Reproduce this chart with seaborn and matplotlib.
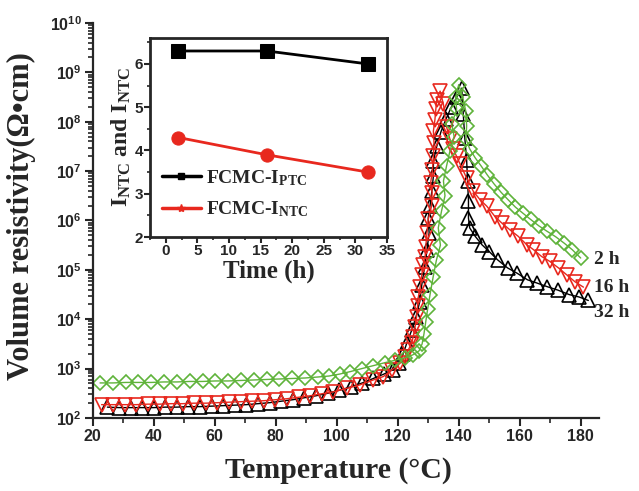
import numpy as np
import matplotlib
matplotlib.use("Agg")
import matplotlib.pyplot as plt
from matplotlib.ticker import MultipleLocator, LogLocator, FuncFormatter, NullFormatter
from matplotlib.lines import Line2D
import seaborn as sns

temp_32h = [24.8, 28.6, 32.4, 36.2, 40.0, 43.8, 47.6, 51.4, 55.2, 59.0, 62.8, 66.6, 70.4, 74.2,
            78.0, 81.8, 85.6, 89.4, 93.2, 97.0, 100.8, 104.6, 108.4, 112.0, 115.5, 118.5, 120.5,
            121.8, 123.0, 124.6, 126.0, 127.2, 127.9, 128.8, 129.6, 130.3, 130.0, 130.6, 131.2,
            131.7, 131.7, 132.8, 134.2, 135.8, 137.6, 139.4, 141.0, 141.5, 142.0, 142.6, 142.9,
            143.2, 143.2, 143.6, 145.4, 147.6, 150.0, 152.8, 156.0, 159.2, 162.5, 165.8, 169.0,
            172.5, 176.2, 179.5, 182.5]
log_rho_32h = [2.22, 2.21, 2.21, 2.21, 2.21, 2.22, 2.22, 2.23, 2.23, 2.24, 2.25, 2.26, 2.27, 2.29,
               2.31, 2.34, 2.37, 2.41, 2.45, 2.50, 2.56, 2.63, 2.71, 2.80, 2.89, 2.98, 3.12,
               3.30, 3.52, 3.78, 4.05, 4.35, 4.70, 5.05, 5.40, 5.75, 6.05, 6.30, 6.60,
               6.90, 7.20, 7.50, 7.80, 8.05, 8.30, 8.50, 8.68, 8.15, 7.67, 7.23, 6.80,
               6.40, 6.05, 5.85, 5.68, 5.51, 5.37, 5.20, 5.04, 4.93, 4.80, 4.73, 4.66,
               4.59, 4.50, 4.45, 4.38]

temp_16h = [22.9, 26.7, 30.5, 34.3, 38.1, 41.9, 45.7, 49.5, 53.3, 57.1, 60.9, 64.7, 68.5, 72.3,
            76.1, 79.9, 83.7, 87.5, 91.3, 95.1, 98.9, 103.3, 107.6, 112.0, 115.3, 118.0, 120.8,
            122.4, 123.5, 124.6, 125.1, 125.7, 126.2, 126.5, 126.8, 127.4, 127.9, 128.4, 129.0,
            129.2, 129.6, 130.0, 131.1, 131.3, 130.8, 131.4, 131.7, 131.9, 131.7, 132.2, 132.5,
            132.8, 133.9, 135.0, 136.0, 137.1, 138.2, 139.3, 140.4, 142.6, 144.8, 147.0, 149.2,
            151.9, 154.1, 156.8, 159.5, 162.3, 164.5, 167.2, 169.9, 172.7, 175.4, 178.1, 180.9]
log_rho_16h = [2.27, 2.27, 2.27, 2.27, 2.28, 2.28, 2.29, 2.29, 2.30, 2.30, 2.31, 2.32, 2.33, 2.34,
               2.35, 2.37, 2.39, 2.42, 2.45, 2.49, 2.53, 2.60, 2.67, 2.77, 2.84, 2.97, 3.11,
               3.24, 3.38, 3.52, 3.65, 3.85, 4.05, 4.26, 4.46, 4.66, 4.90, 5.10, 5.27,
               5.47, 5.75, 6.02, 6.29, 6.56, 6.76, 7.03, 7.30, 7.57, 7.81, 8.04, 8.25,
               8.45, 8.62, 8.35, 7.90, 7.65, 7.45, 7.30, 7.15, 6.86, 6.59, 6.42, 6.29,
               6.08, 5.95, 5.81, 5.68, 5.51, 5.41, 5.27, 5.17, 5.04, 4.90, 4.76, 4.65]

temp_2h = [22.4, 26.6, 30.8, 35.0, 39.2, 43.4, 47.6, 51.8, 56.0, 60.2, 64.4, 68.6, 72.8, 77.0,
           81.2, 85.4, 89.6, 93.8, 97.5, 101.0, 104.5, 108.2, 112.0, 115.8, 119.2, 122.4, 125.0,
           127.0, 128.0, 128.6, 129.2, 129.8, 130.6, 131.6, 132.7, 134.0, 133.3, 134.4, 135.5,
           135.0, 136.0, 137.1, 138.5, 137.7, 139.3, 139.0, 140.0, 141.3, 142.3, 142.6, 142.4,
           143.6, 145.4, 147.4, 149.4, 151.6, 153.9, 156.2, 158.6, 161.0, 163.6, 166.3, 169.0,
           171.8, 174.6, 177.2, 180.0]
log_rho_2h = [2.71, 2.71, 2.72, 2.72, 2.72, 2.73, 2.73, 2.74, 2.74, 2.75, 2.75, 2.76, 2.77, 2.78,
              2.79, 2.80, 2.81, 2.83, 2.85, 2.89, 2.94, 3.00, 3.06, 3.12, 3.17, 3.22, 3.28,
              3.36, 3.50, 3.70, 3.95, 4.20, 4.50, 4.85, 5.20, 5.50, 5.85, 6.20, 6.50,
              6.80, 7.10, 7.40, 7.70, 7.95, 8.25, 8.50, 8.75, 8.50, 8.22, 7.92, 7.65,
              7.45, 7.27, 7.10, 6.92, 6.74, 6.57, 6.42, 6.27, 6.15, 6.02, 5.89, 5.78,
              5.67, 5.54, 5.41, 5.24]

# Inset: intensity ratios vs annealing time
time_h = [2, 16, 32]
i_ptc = [6.3, 6.3, 6.0]
i_ntc = [4.3, 3.9, 3.5]

RED = "#e8281e"
GREEN = "#5fb33a"

sns.set_style("ticks")
plt.rcParams.update({
    "font.family": "Liberation Sans",
    "font.weight": "bold",
    "mathtext.fontset": "custom",
    "mathtext.rm": "Liberation Serif:bold",
    "mathtext.bf": "Liberation Serif:bold",
    "mathtext.it": "Liberation Serif:bold:italic",
    "mathtext.sf": "Liberation Sans:bold",
    "axes.linewidth": 1.6,
})
SERIF = "Liberation Serif"

fig = plt.figure(figsize=(6.39, 4.91), dpi=100)
ax = fig.add_axes([0.1451, 0.1487, 0.7923, 0.8045])

series = [
    (temp_32h, log_rho_32h, "black", "^", 9.5),
    (temp_16h, log_rho_16h, RED, "v", 9.5),
    (temp_2h, log_rho_2h, GREEN, "D", 7.5),
]
for t, lr, c, m, ms in series:
    sns.lineplot(x=t, y=10 ** np.array(lr), ax=ax, sort=False, estimator=None,
                 color=c, linewidth=1.0, marker=m, markersize=ms,
                 markerfacecolor="none", markeredgecolor=c, markeredgewidth=1.2)

ax.set_yscale("log")
ax.set_xlim(20, 186)
ax.set_ylim(1e2, 1e10)
ax.xaxis.set_major_locator(MultipleLocator(20))
ax.xaxis.set_minor_locator(MultipleLocator(10))
ax.yaxis.set_major_locator(LogLocator(base=10, numticks=20))
ax.yaxis.set_minor_locator(LogLocator(base=10, subs=np.arange(2, 10), numticks=20))
ax.yaxis.set_major_formatter(FuncFormatter(lambda v, p: r"$\mathsf{10^{%d}}$" % round(np.log10(v))))
ax.yaxis.set_minor_formatter(NullFormatter())
ax.tick_params(which="major", direction="out", length=6, width=1.5, labelsize=11.5, pad=2)
ax.tick_params(which="minor", direction="out", length=3.5, width=1.2)
sns.despine(ax=ax)

ax.set_xlabel("Temperature (°C)", family=SERIF, fontsize=21.5, fontweight="bold")
ax.set_ylabel("Volume resistivity(Ω•cm)", family=SERIF, fontsize=22, fontweight="bold")
ax.xaxis.set_label_coords(0.485, -0.099)
ax.yaxis.set_label_coords(-0.112, 0.51)

for lbl, y in [("2 h", 1.6e5), ("16 h", 4.4e4), ("32 h", 1.35e4)]:
    ax.text(184.3, y, lbl, family=SERIF, fontsize=14, fontweight="bold", va="center", ha="left")

# inset
axin = fig.add_axes([0.2347, 0.5173, 0.3709, 0.4053])
sns.lineplot(x=time_h, y=i_ptc, ax=axin, color="black", linewidth=2, marker="s",
             markersize=9.5, markeredgecolor="black", estimator=None)
sns.lineplot(x=time_h, y=i_ntc, ax=axin, color=RED, linewidth=2, marker="o",
             markersize=9.5, markeredgecolor=RED, estimator=None)
axin.set_xlim(-2.5, 35)
axin.set_ylim(2, 6.6)
axin.xaxis.set_major_locator(MultipleLocator(5))
axin.xaxis.set_minor_locator(MultipleLocator(2.5))
axin.yaxis.set_major_locator(MultipleLocator(1))
axin.yaxis.set_minor_locator(MultipleLocator(0.5))
axin.tick_params(which="major", direction="out", length=4, width=1.5, labelsize=11, pad=1)
axin.tick_params(which="minor", direction="out", length=2.5, width=1.2)
for s in axin.spines.values():
    s.set_linewidth(2)
axin.set_xlabel("Time (h)", family=SERIF, fontsize=18, fontweight="bold", labelpad=1)
axin.set_ylabel(r"I$_{\mathrm{NTC}}$ and I$_{\mathrm{NTC}}$", family=SERIF, fontsize=17,
                fontweight="bold", labelpad=1)

handles = [
    Line2D([], [], color="black", linewidth=2.5, marker="s", markersize=4),
    Line2D([], [], color=RED, linewidth=2.5, marker="*", markersize=6),
]
axin.legend(handles, [r"FCMC-I$_{\mathrm{PTC}}$", r"FCMC-I$_{\mathrm{NTC}}$"],
            loc="lower left", bbox_to_anchor=(0.0, 0.03), frameon=False,
            prop={"family": SERIF, "size": 14, "weight": "bold"},
            handlelength=2.0, handletextpad=0.3, labelspacing=0.6, borderaxespad=0.2)

fig.savefig("out.png", dpi=100)
